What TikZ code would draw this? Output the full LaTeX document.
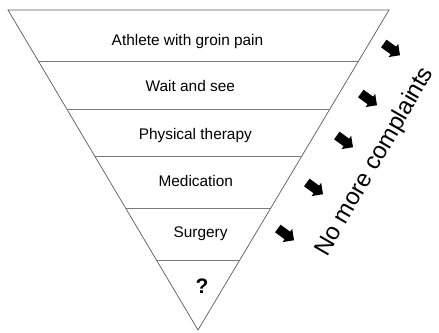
\documentclass[tikz,border=0pt]{standalone}
\usepackage{fontspec}
\setmainfont{Liberation Sans}
\usetikzlibrary{positioning,shapes.arrows,calc}
\definecolor{edge}{HTML}{5A5A5A}
\definecolor{rule}{HTML}{7A7A7A}

\begin{document}
\begin{tikzpicture}[x=1pt,y=-1pt,
  band/.style={draw=rule,line width=0.7pt},
  lbl/.style={anchor=base,inner sep=0pt,font=\fontsize{15.4}{18}\selectfont},
  arr/.style={single arrow,fill=black,draw=none,minimum height=20pt,minimum width=16pt,
    inner xsep=0pt,inner ysep=4.5pt,single arrow head extend=3.5pt,rotate=-36}]
\useasboundingbox (0,0) rectangle (439,332);
\coordinate (tl) at (8,10);
\coordinate (tr) at (389,10);
\coordinate (ap) at (198,330);
\draw[band,draw=edge] (tl) -- (tr) -- (ap) -- cycle;
\foreach \t in {0.162,0.309,0.456,0.620,0.781}
  \draw[band] ($(tl)!\t!(ap)$) -- ($(tr)!\t!(ap)$);
\node[lbl] (athlete) at (187.5,45) {Athlete with groin pain};
\node[lbl] (wait) at (190.3,91.7) {Wait and see};
\node[lbl] (physio) at (195.3,139) {Physical therapy};
\node[lbl] (meds) at (195.8,186) {Medication};
\node[lbl] (surgery) at (200.5,237.7) {Surgery};
\node[lbl,font=\fontsize{21}{24}\selectfont\bfseries] (unknown) at (202,293) {?};
\foreach \x/\y [count=\i] in {390/48,367/98,343/140,313/187,284/233}
  \node[arr] (a\i) at (\x,\y) {};
\node[rotate=60,anchor=base,inner sep=0pt,font=\fontsize{24}{28}\selectfont] (nomore) at (380.5,165) {No more complaints};
\end{tikzpicture}
\end{document}
